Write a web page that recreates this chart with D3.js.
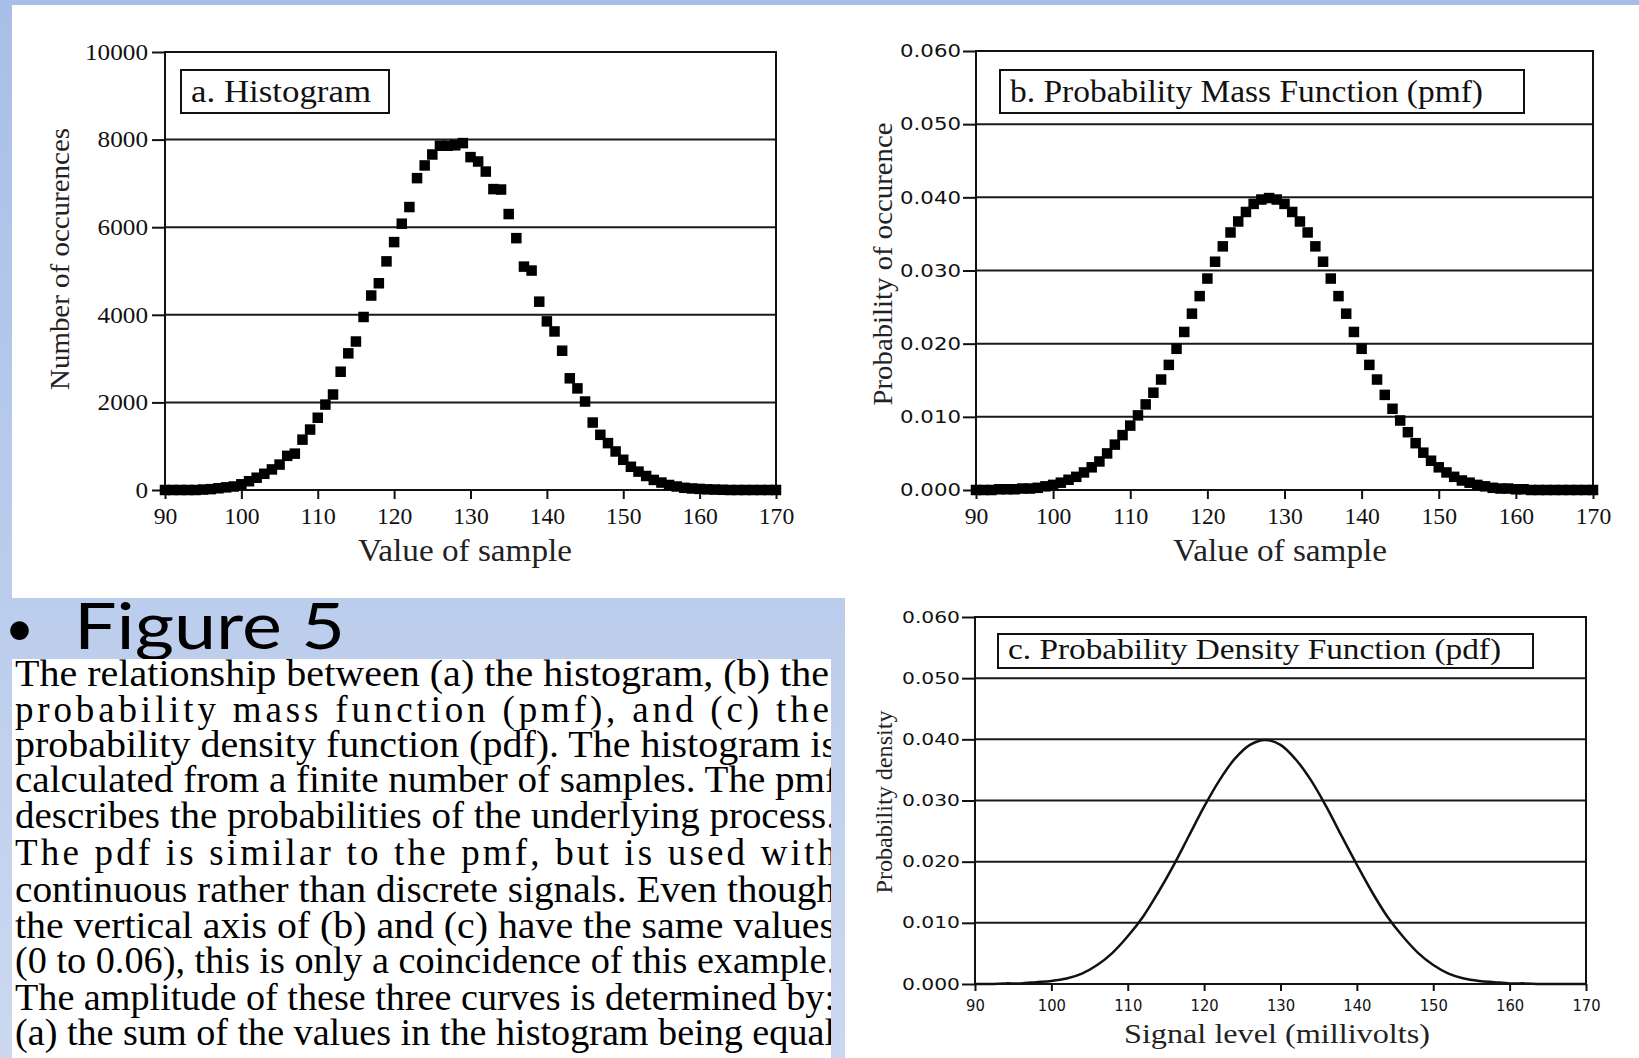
<!DOCTYPE html>
<html>
<head>
<meta charset="utf-8">
<script src="https://cdn.jsdelivr.net/npm/d3@7"></script>
<style>
html,body{margin:0;padding:0;overflow:hidden;background:#b9cbeb;}
svg{display:block;}
</style>
</head>
<body>
<svg id="basicSVG" width="1639" height="1058"></svg>
<script>
// 資料：取樣值 90..170
var sampleValues = [90,91,92,93,94,95,96,97,98,99,100,101,102,103,104,105,106,107,108,109,110,
	111,112,113,114,115,116,117,118,119,120,121,122,123,124,125,126,127,128,129,130,
	131,132,133,134,135,136,137,138,139,140,141,142,143,144,145,146,147,148,149,150,
	151,152,153,154,155,156,157,158,159,160,161,162,163,164,165,166,167,168,169,170];
// a. histogram (number of occurences)
var histCounts = [0,0,0,0,0,10,20,40,60,80,130,
	200,280,370,470,580,780,830,1150,1380,1650,
	1950,2180,2700,3120,3390,3950,4440,4720,5220,5660,
	6080,6460,7120,7410,7660,7860,7860,7870,7920,7600,
	7500,7270,6870,6860,6300,5750,5100,5010,4300,3850,
	3620,3180,2550,2320,2020,1540,1260,1070,880,690,
	530,420,320,230,170,115,80,50,35,25,
	15,10,5,0,0,0,0,0,0,0];
// b. pmf
var pmfValues = [0,0,0,0.0001,0.0001,0.0001,0.0002,0.0002,0.0003,0.0005,0.0007,
	0.0010,0.0014,0.0018,0.0024,0.0031,0.0039,0.0050,0.0062,0.0075,0.0088,
	0.0102,0.0117,0.0133,0.0151,0.0171,0.0193,0.0216,0.0241,0.0265,0.0289,
	0.0312,0.0333,0.0352,0.0367,0.0380,0.0391,0.0397,0.0399,0.0397,0.0391,
	0.0380,0.0367,0.0352,0.0333,0.0312,0.0289,0.0265,0.0241,0.0216,0.0193,
	0.0171,0.0151,0.0130,0.0111,0.0095,0.0079,0.0064,0.0051,0.0040,0.0031,
	0.0024,0.0018,0.0013,0.0010,0.0007,0.0005,0.0003,0.0002,0.0002,0.0001,
	0.0001,0,0,0,0,0,0,0,0,0];
// c. pdf (signal level in millivolts)
var pdfLevels = [90,92,94,96,98,100,102,104,106,108,110,112,114,116,118,120,122,124,126,128,
	130,132,134,136,138,140,142,144,146,148,150,152,154,156,158,160,162,164,166,168,170];
var pdfValues = [0,0,0.0001,0.0001,0.0003,0.0005,0.0009,0.0017,0.0031,0.0051,0.0078,0.0110,0.0150,0.0194,0.0242,0.0290,0.0333,0.0368,0.0391,0.0399,
	0.0391,0.0367,0.0333,0.0290,0.0242,0.0195,0.0150,0.0110,0.0078,0.0051,0.0031,0.0017,0.0009,0.0005,0.0003,0.0001,0.0001,0,0,0,0];

var xTicks = [90,100,110,120,130,140,150,160,170];
var histTicks = [0,2000,4000,6000,8000,10000];
var probTicks = [0,0.01,0.02,0.03,0.04,0.05,0.06];

var headingText = "Figure 5";
var paragraphLines = [
	"The relationship between (a) the histogram, (b) the",
	"probability mass function (pmf), and (c) the",
	"probability density function (pdf).  The histogram is",
	"calculated from a finite number of samples.  The pmf",
	"describes the probabilities of the underlying process.",
	"The pdf is similar to the pmf, but is used with",
	"continuous rather than discrete signals. Even though",
	"the vertical axis of (b) and (c) have the same values",
	"(0 to 0.06), this is only a coincidence of this example.",
	"The amplitude of these three curves is determined by:",
	"(a) the sum of the values in the histogram being equal"
];

var serif = "'Liberation Serif','Times New Roman',Times,serif";
var sans = "'DejaVu Sans',Verdana,sans-serif";
var ink = "#111";

var svg = d3.select("#basicSVG");
var defs = svg.append("defs");

//背景
var grad = defs.append("linearGradient").attr("id","slideBg").attr("x1",0).attr("y1",0).attr("x2",0).attr("y2",1);
grad.append("stop").attr("offset","0%").attr("stop-color","#a7bfe8");
grad.append("stop").attr("offset","100%").attr("stop-color","#cbd8f0");
svg.append("rect").attr("x",0).attr("y",0).attr("width",1639).attr("height",1058).attr("fill","url(#slideBg)");

svg.append("rect").attr("x",12).attr("y",5).attr("width",1627).attr("height",593).attr("fill","#fff");
svg.append("rect").attr("x",845).attr("y",597).attr("width",794).attr("height",461).attr("fill","#fff");

//標題 (the box below hides the descender)
svg.append("text").text("\u2022").attr("x",5).attr("y",646)
	.attr("font-family","Lato,'Open Sans',sans-serif").attr("font-size",50).attr("fill","#000");
svg.append("text").text(headingText).attr("x",74).attr("y",649)
	.attr("font-family","Lato,'Open Sans',sans-serif").attr("font-size",64).attr("fill","#000")
	.attr("textLength",271).attr("lengthAdjust","spacingAndGlyphs");

svg.append("rect").attr("x",12).attr("y",659).attr("width",819).attr("height",399).attr("fill","#fff");
defs.append("clipPath").attr("id","textClip").append("rect").attr("x",12).attr("y",659).attr("width",819).attr("height",399);

var baselines = [686,722,757,792,828,865,902,938,973,1010,1045];
var lineEnds = [829,829,837,838,836,836,836,835,836,835,835];
var para = svg.append("g").attr("clip-path","url(#textClip)");
for(var i in paragraphLines)
{
	var t = para.append("text").text(paragraphLines[i])
		.attr("x",15).attr("y",baselines[i])
		.attr("font-family",serif).attr("font-size",37).attr("fill","#000");
	var natural = t.node().getComputedTextLength();
	var target = lineEnds[i]-15;
	//很短的行用字距撐開，其他行直接縮放字形
	t.attr("textLength",target).attr("lengthAdjust", natural<target*0.9 ? "spacing" : "spacingAndGlyphs");
}

//三個圖
function drawPanel(opt)
{
	var g = svg.append("g");
	var x = d3.scaleLinear().domain([90,170]).range([opt.left,opt.right]);
	var y = d3.scaleLinear().domain(opt.yDomain).range([opt.bottom,opt.top]);

	//格線
	g.selectAll(".grid").data(opt.yTicks).enter().append("line")
		.attr("x1",opt.left).attr("x2",opt.right)
		.attr("y1",function(d){return y(d);}).attr("y2",function(d){return y(d);})
		.attr("stroke","#1a1a1a").attr("stroke-width",2);
	g.append("rect").attr("x",opt.left).attr("y",opt.top)
		.attr("width",opt.right-opt.left).attr("height",opt.bottom-opt.top)
		.attr("fill","none").attr("stroke",ink).attr("stroke-width",2);

	var ay = g.append("g").attr("transform","translate("+opt.left+",0)")
		.call(d3.axisLeft(y).tickValues(opt.yTicks).tickSize(13).tickPadding(opt.yPad).tickFormat(opt.yFormat));
	ay.select(".domain").remove();
	ay.selectAll("line").attr("stroke",ink).attr("stroke-width",2);
	ay.selectAll("text").attr("font-family",opt.yFont).attr("font-size",opt.yFontSize).attr("fill",ink)
		.attr("textLength",function(d){return opt.yFormat(d).length*opt.yCharW;})
		.attr("lengthAdjust","spacingAndGlyphs");

	var ax = g.append("g").attr("transform","translate(0,"+opt.bottom+")")
		.call(d3.axisBottom(x).tickValues(xTicks).tickSize(opt.xTickSize).tickPadding(opt.xPad).tickFormat(d3.format("d")));
	ax.select(".domain").remove();
	ax.selectAll("line").attr("stroke",ink).attr("stroke-width",2);
	ax.selectAll("text").attr("font-family",opt.xFont).attr("font-size",opt.xFontSize).attr("fill",ink)
		.attr("textLength",function(d){return String(d).length*opt.xCharW;})
		.attr("lengthAdjust","spacingAndGlyphs");

	//軸標題
	g.append("text").text(opt.yTitle)
		.attr("transform","translate("+opt.yTitleX+","+opt.yTitleY+") rotate(-90)")
		.attr("dy","0.32em").attr("text-anchor","middle")
		.attr("font-family",serif).attr("font-size",opt.yTitleSize).attr("fill","#222")
		.attr("textLength",opt.yTitleLen).attr("lengthAdjust","spacingAndGlyphs");
	g.append("text").text(opt.xTitle)
		.attr("x",opt.xTitleX).attr("y",opt.xTitleY).attr("text-anchor","middle")
		.attr("font-family",serif).attr("font-size",opt.xTitleSize).attr("fill","#222")
		.attr("textLength",opt.xTitleLen).attr("lengthAdjust","spacingAndGlyphs");

	//圖例框
	g.append("rect").attr("x",opt.box[0]).attr("y",opt.box[1]).attr("width",opt.box[2]).attr("height",opt.box[3])
		.attr("fill","#fff").attr("stroke",ink).attr("stroke-width",2);
	g.append("text").text(opt.label).attr("x",opt.box[0]+10).attr("y",opt.labelY)
		.attr("font-family",serif).attr("font-size",opt.labelSize).attr("fill",ink)
		.attr("textLength",opt.labelLen).attr("lengthAdjust","spacingAndGlyphs");

	return {g:g,x:x,y:y};
}

var pa = drawPanel({
	left:165,right:776,top:52,bottom:490,yDomain:[0,10000],yTicks:histTicks,
	yFormat:d3.format("d"),yFont:serif,yFontSize:23,yCharW:12.6,yPad:4,
	xFont:serif,xFontSize:23,xCharW:11.8,xTickSize:9,xPad:9,
	yTitle:"Number of occurences",yTitleX:60,yTitleY:259,yTitleSize:28,yTitleLen:262,
	xTitle:"Value of sample",xTitleX:465,xTitleY:561,xTitleSize:31,xTitleLen:214,
	box:[181,70,208,43],label:"a.  Histogram",labelY:102,labelSize:32,labelLen:180
});
var pb = drawPanel({
	left:976,right:1593,top:51,bottom:490,yDomain:[0,0.06],yTicks:probTicks,
	yFormat:d3.format(".3f"),yFont:sans,yFontSize:18,yCharW:12.2,yPad:2,
	xFont:serif,xFontSize:23,xCharW:11.8,xTickSize:9,xPad:9,
	yTitle:"Probability of occurence",yTitleX:883,yTitleY:264,yTitleSize:28,yTitleLen:283,
	xTitle:"Value of sample",xTitleX:1280,xTitleY:561,xTitleSize:31,xTitleLen:214,
	box:[1000,70,524,43],label:"b.  Probability Mass Function (pmf)",labelY:102,labelSize:32,labelLen:473
});
var pc = drawPanel({
	left:975,right:1586,top:617,bottom:984,yDomain:[0,0.06],yTicks:probTicks,
	yFormat:d3.format(".3f"),yFont:sans,yFontSize:16,yCharW:11.6,yPad:2,
	xFont:sans,xFontSize:16,xCharW:9.4,xTickSize:7,xPad:9,
	yTitle:"Probability density",yTitleX:884,yTitleY:802,yTitleSize:24,yTitleLen:183,
	xTitle:"Signal level (millivolts)",xTitleX:1277,xTitleY:1043,xTitleSize:28,xTitleLen:306,
	box:[998,634,535,34],label:"c.  Probability Density Function (pdf)",labelY:659,labelSize:29,labelLen:493
});

//標記
var mk = 10.5;
pa.g.selectAll(".hist").data(sampleValues).enter().append("rect")
	.attr("x",function(d){return pa.x(d)-mk/2;})
	.attr("y",function(d,i){return pa.y(histCounts[i])-mk/2;})
	.attr("width",mk).attr("height",mk).attr("fill","#000");
pb.g.selectAll(".pmf").data(sampleValues).enter().append("rect")
	.attr("x",function(d){return pb.x(d)-mk/2;})
	.attr("y",function(d,i){return pb.y(pmfValues[i])-mk/2;})
	.attr("width",mk).attr("height",mk).attr("fill","#000");

var pdfLine = d3.line()
	.x(function(d){return pc.x(d);})
	.y(function(d,i){return pc.y(pdfValues[i]);})
	.curve(d3.curveCatmullRom.alpha(0.5));
pc.g.append("path").attr("d",pdfLine(pdfLevels))
	.attr("fill","none").attr("stroke","#111").attr("stroke-width",2.5);
</script>
</body>
</html>
